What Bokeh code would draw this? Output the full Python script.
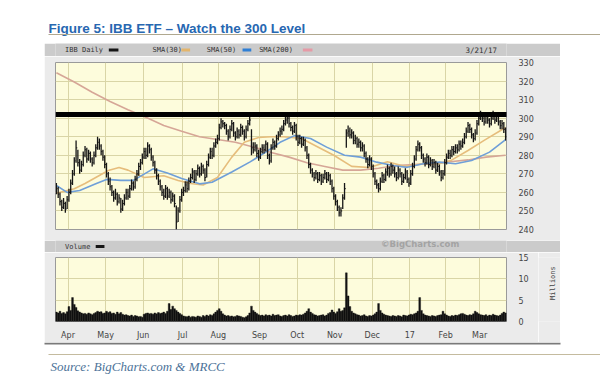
import math
import numpy as np
from bokeh.plotting import figure
from bokeh.layouts import column, row, Spacer
from bokeh.models import Range1d, FixedTicker, BoxAnnotation
from bokeh.core.properties import value
from bokeh.embed import file_html
from bokeh.resources import INLINE

# ---------------- data ----------------
month_labels = ["Apr", "May", "Jun", "Jul", "Aug", "Sep", "Oct", "Nov", "Dec", "17", "Feb", "Mar"]
month_start_idx = [7, 28, 49, 71, 91, 114, 135, 156, 177, 198, 218, 237]
price_ticks = [240, 250, 260, 270, 280, 290, 300, 310, 320, 330]
volume_ticks = [0, 5, 10, 15]
resistance_level = 302
last_date = "3/21/17"

closes = [
    262, 259, 255, 252, 254, 251, 256,
    260, 265, 270, 277, 284, 276, 272,
    275, 280, 283, 278, 281, 278, 276,
    280, 284, 287, 285, 282, 279, 275,
    270, 266, 263, 260, 257, 259, 255,
    257, 251, 254, 257, 260, 258, 262,
    265, 263, 267, 270, 274, 276, 279,
    282, 280, 285, 283, 279, 276, 272,
    269, 266, 263, 260, 258, 262, 258,
    260, 256, 258, 254, 244, 250, 256,
    260, 261, 264, 262, 266, 268, 271,
    267, 270, 273, 270, 274, 272, 268,
    275, 279, 282, 280, 285, 287, 289,
    295, 298, 297, 296, 293, 290, 294,
    297, 292, 290, 293, 291, 295, 293,
    290, 294, 297, 299, 284, 283, 285,
    281, 279, 282, 284, 283, 286, 280,
    277, 284, 287, 285, 289, 291, 293,
    294, 297, 299, 300, 297, 295, 293,
    296, 290, 287, 289, 286, 288, 284,
    280, 275, 272, 270, 268, 270, 267,
    269, 266, 268, 270, 267, 269, 266,
    262, 258, 255, 252, 249, 250, 257,
    262, 292, 293, 291, 292, 288, 289,
    286, 287, 284, 285, 281, 278, 275,
    278, 274, 270, 266, 264, 262, 266,
    269, 267, 271, 273, 270, 274, 272,
    270, 268, 272, 270, 266, 268, 271,
    267, 265, 270, 274, 278, 283, 286,
    284, 280, 278, 276, 279, 275, 277,
    274, 276, 272, 274, 271, 268, 270,
    276, 279, 281, 280, 283, 282, 284,
    283, 286, 285, 287, 290, 293, 296,
    294, 291, 289, 292, 297, 300, 302,
    300, 298, 301, 299, 297, 300, 302,
    299, 301, 298, 296, 297, 294, 290,
]

lows = [
    259, 257, 253, 250, 251, 249, 251,
    255, 259, 264, 269, 276, 274, 270,
    271, 274, 279, 276, 277, 276, 274,
    275, 279, 283, 283, 280, 277, 273,
    268, 264, 261, 258, 255, 256, 253,
    254, 249, 250, 253, 256, 256, 257,
    261, 261, 262, 266, 269, 272, 275,
    278, 278, 279, 281, 277, 274, 270,
    267, 264, 261, 258, 256, 257, 256,
    257, 254, 255, 252, 240, 244, 249,
    255, 258, 260, 260, 261, 265, 267,
    265, 266, 269, 268, 269, 270, 266,
    268, 274, 278, 278, 279, 284, 286,
    288, 294, 295, 294, 291, 288, 289,
    293, 290, 288, 289, 289, 290, 291,
    288, 289, 293, 296, 280, 281, 282,
    279, 277, 278, 281, 281, 282, 278,
    275, 276, 283, 283, 284, 288, 290,
    291, 293, 296, 297, 295, 293, 291,
    292, 288, 285, 286, 284, 285, 282,
    278, 273, 270, 268, 266, 267, 265,
    266, 264, 265, 267, 265, 266, 264,
    260, 256, 253, 250, 247, 247, 251,
    256, 284, 290, 289, 289, 286, 286,
    284, 284, 282, 282, 279, 276, 273,
    274, 272, 268, 264, 262, 260, 261,
    265, 265, 266, 269, 268, 269, 270,
    268, 266, 267, 268, 264, 265, 267,
    265, 263, 264, 269, 273, 277, 282,
    282, 278, 276, 274, 275, 273, 274,
    272, 273, 270, 271, 269, 266, 267,
    269, 275, 278, 278, 279, 280, 281,
    281, 282, 283, 284, 286, 289, 292,
    292, 289, 287, 288, 291, 296, 299,
    298, 296, 297, 297, 295, 296, 299,
    297, 298, 296, 294, 294, 292, 288,
]

highs = [
    265, 263, 260, 256, 257, 255, 258,
    262, 267, 272, 279, 288, 283, 278,
    277, 282, 285, 284, 283, 282, 279,
    282, 286, 290, 289, 286, 283, 280,
    276, 271, 268, 264, 261, 262, 260,
    259, 257, 256, 259, 262, 262, 264,
    267, 266, 269, 272, 276, 278, 281,
    284, 284, 287, 286, 284, 280, 277,
    273, 270, 267, 264, 262, 264, 263,
    262, 261, 260, 259, 253, 252, 258,
    262, 263, 266, 266, 268, 270, 273,
    272, 272, 275, 274, 276, 275, 273,
    277, 281, 284, 284, 287, 289, 291,
    297, 300, 299, 298, 297, 294, 296,
    299, 298, 293, 295, 294, 297, 296,
    294, 296, 299, 301, 294, 287, 287,
    286, 283, 284, 286, 286, 288, 287,
    281, 286, 289, 288, 291, 293, 295,
    296, 299, 301, 302, 301, 298, 296,
    298, 297, 291, 291, 290, 290, 289,
    285, 281, 276, 273, 271, 272, 271,
    271, 270, 270, 272, 271, 271, 270,
    267, 263, 259, 256, 253, 252, 259,
    265, 294, 296, 295, 294, 293, 291,
    290, 289, 288, 287, 286, 282, 279,
    280, 279, 275, 271, 267, 265, 268,
    271, 270, 273, 275, 274, 276, 275,
    274, 271, 274, 273, 271, 270, 273,
    272, 268, 272, 276, 280, 285, 288,
    287, 285, 281, 279, 281, 280, 279,
    278, 278, 277, 276, 275, 272, 272,
    278, 281, 283, 283, 285, 285, 286,
    286, 288, 288, 289, 292, 295, 298,
    297, 295, 292, 294, 299, 302, 304,
    303, 301, 303, 302, 300, 302, 304,
    303, 303, 302, 299, 299, 298, 295,
]

volume_m = [
    2.2, 2.0, 2.4, 1.9, 2.1, 1.8, 2.3,
    3.5, 2.6, 5.6, 4.0, 3.3, 2.5, 2.2,
    2.0, 1.8, 1.9, 1.7, 2.0, 1.8, 1.6,
    1.9, 2.1, 2.4, 2.2, 2.3, 1.9, 2.0,
    2.4, 2.1, 2.3, 1.9, 2.0, 1.7, 2.2,
    1.8, 2.1, 1.7, 1.5, 1.6, 1.4, 1.3,
    1.5, 1.2, 1.4, 1.3, 1.1, 1.2, 1.0,
    1.7, 1.9, 2.0, 1.8, 1.9, 1.7, 2.0,
    1.8, 2.1, 1.9, 2.0, 2.2, 1.9, 2.4,
    4.2, 2.8, 3.6, 3.0, 2.6, 2.2, 1.9,
    1.6, 1.3, 1.2, 1.1, 1.3, 1.0, 1.2,
    1.1, 1.0, 1.3, 1.2, 1.0, 1.4, 1.2,
    1.5, 1.3, 1.6, 1.4, 1.8, 2.2, 2.6,
    3.0, 2.4, 1.8, 1.5, 1.3, 1.4, 1.2,
    1.3, 1.1, 1.2, 1.4, 1.3, 1.2, 1.0,
    0.9, 1.1, 1.4, 2.0, 3.6, 2.6, 2.2,
    1.9, 1.6, 1.4, 1.5, 1.3, 1.6, 1.4,
    1.5, 1.3, 1.7, 1.4, 1.5, 1.6, 1.3,
    1.2, 1.4, 1.5, 1.3, 1.6, 1.4, 1.2,
    1.3, 1.5, 1.4, 1.6, 1.5, 1.7, 2.0,
    2.4, 3.0, 2.2, 1.9, 1.6, 1.5, 1.3,
    1.4, 1.5, 1.6, 1.3, 1.5, 1.9, 2.1,
    2.7, 2.2, 1.9, 2.3, 3.0, 2.4, 2.6,
    3.2, 11.4, 6.0, 3.5, 2.4, 2.0, 1.8,
    1.6, 1.5, 1.3, 1.4, 1.6, 1.3, 1.2,
    1.4, 1.3, 1.5, 1.8, 2.2, 4.2, 2.6,
    2.0, 1.7, 1.5, 1.4, 1.3, 1.2, 1.4,
    1.3, 1.2, 1.4, 1.3, 1.1, 1.5, 1.4,
    1.3, 1.5, 1.7, 1.6, 1.8, 2.0, 2.4,
    5.6, 2.6, 1.8, 1.5, 1.4, 1.3, 1.2,
    1.4, 1.3, 1.2, 1.4, 1.5, 1.6, 2.4,
    1.8, 1.5, 1.3, 1.2, 1.4, 1.3, 1.5,
    1.4, 1.6, 1.8, 1.9, 1.7, 1.5, 1.4,
    1.6, 1.5, 1.8, 2.4, 2.1, 1.8, 1.6,
    1.5, 1.4, 1.6, 1.3, 1.5, 1.4, 1.7,
    1.5, 1.4, 1.3, 1.5, 1.9, 2.2, 2.0,
]

sma30_idx = [0, 10, 16, 29, 35, 40, 49, 60, 68, 75, 82, 90, 98, 105, 113, 120,
             127, 137, 145, 155, 165, 175, 185, 195, 205, 214, 221, 230, 239, 251]
sma30_val = [259.5, 262, 264.8, 271.8, 273.4, 272, 268, 269, 266.4, 264.8, 264, 268,
             279, 287, 289.6, 290, 290, 289, 285, 280, 274, 273.4, 276.5, 274,
             275.4, 275.4, 277.5, 282.6, 288, 295]

sma50_idx = [0, 6, 13, 22, 28, 36, 43, 54, 62, 70, 80, 87, 98, 108, 117, 125,
             133, 142, 151, 161, 170, 179, 188, 196, 205, 214, 223, 232, 242, 251]
sma50_val = [263.7, 260, 261, 264.6, 267, 266.5, 266.5, 272.7, 270.5, 267.5, 264.6,
             265.5, 271, 276.3, 281.7, 287, 290.6, 289, 284.4, 280, 279, 276.3,
             274.5, 273.5, 275.4, 276.3, 275.4, 277.2, 281.7, 288.5]

sma200_idx = [0, 10, 20, 30, 40, 50, 60, 70, 80, 90, 100, 110, 120, 130, 140, 150,
              160, 170, 180, 190, 200, 210, 220, 230, 240, 251]
sma200_val = [324.5, 319.5, 314, 309, 304.5, 300.5, 296, 293, 290, 288.5, 287, 284.5,
              281.5, 279, 276, 274, 272, 272, 273, 274.5, 275, 275.5, 276.5, 277.5,
              279, 280]

# ---------------- styles ----------------
BAR_GREY = "#cbcbcb"
PANEL = "#ebebeb"
CREAM = "#fdfcdc"
GRID = "#d9d5a6"
PRICE_C = "#161616"
SMA30_C = "#e6bd7c"
SMA50_C = "#6f9fd8"
SMA200_C = "#d6a697"
LEG_PINK = "#e59aa6"
LEG_BLUE = "#2f7fd5"
LEG_TAN = "#e3b56c"
MONO = value("DejaVu Sans Mono")
SANS = value("DejaVu Sans")


def strip(w, h, bg, flip=True):
    yr = Range1d(h, 0) if flip else Range1d(0, h)
    s = figure(width=w, height=h, x_range=Range1d(0, w), y_range=yr,
               min_border=0, toolbar_location=None, output_backend="svg",
               x_axis_location=None, y_axis_location=None)
    s.grid.visible = False
    s.outline_line_color = None
    s.background_fill_color = bg
    s.border_fill_color = bg
    return s


# ---------------- header ----------------
header = strip(592, 35, "white")
header.text(x=[40], y=[20], text=["Figure 5: IBB ETF \u2013 Watch the 300 Level"],
            text_font=value("Liberation Sans"), text_font_style="bold",
            text_font_size="13.5px", text_color="#2767b1", text_baseline="alphabetic")
header.quad(left=[40], right=[592], top=[25.5], bottom=[26.5], fill_color="#b0a88f",
            line_color=None)

# ---------------- legend strip ----------------
leg = strip(516, 13, BAR_GREY)
leg.text(x=[11, 111, 173, 233], y=[6.5] * 4,
         text=["IBB Daily", "SMA(30)", "SMA(50)", "SMA(200)"],
         text_font=MONO, text_font_size="7px", text_color="#333333",
         text_baseline="middle")
leg.quad(left=[61, 144, 214, 283], right=[72, 154, 224, 294],
         top=[5, 5, 5, 5], bottom=[8, 8, 8, 8],
         fill_color=[PRICE_C, LEG_TAN, LEG_BLUE, LEG_PINK], line_color=None)
leg.text(x=[469], y=[6.5], text=[last_date], text_font=MONO, text_font_size="7.5px",
         text_color="#333333", text_baseline="middle")

# ---------------- price chart ----------------
idx = np.arange(len(closes))
xs = idx + 0.5

p = figure(width=516, height=184, x_range=Range1d(0, len(closes)),
           y_range=Range1d(240, 330), x_axis_location=None, y_axis_location="right",
           toolbar_location=None, output_backend="svg",
           min_border_left=11, min_border_right=54, min_border_top=6, min_border_bottom=11)
p.background_fill_color = CREAM
p.border_fill_color = PANEL
p.outline_line_color = "#9a9a9a"
p.xgrid.ticker = FixedTicker(ticks=month_start_idx)
p.ygrid.ticker = FixedTicker(ticks=price_ticks)
p.grid.grid_line_color = GRID
p.grid.grid_line_width = 1
p.yaxis.ticker = FixedTicker(ticks=price_ticks)
p.yaxis.axis_line_color = None
p.yaxis.major_tick_line_color = None
p.yaxis.minor_tick_line_color = None
p.yaxis.major_label_standoff = 6
p.yaxis.major_label_text_font = "DejaVu Sans"
p.yaxis.major_label_text_font_size = "8px"
p.yaxis.major_label_text_color = "#444444"

p.line(np.array(sma200_idx) + 0.5, sma200_val, line_color=SMA200_C, line_width=1.6)
p.line(np.array(sma30_idx) + 0.5, sma30_val, line_color=SMA30_C, line_width=1.6)
p.line(np.array(sma50_idx) + 0.5, sma50_val, line_color=SMA50_C, line_width=1.6)

p.segment(x0=xs, y0=lows, x1=xs, y1=highs, line_color=PRICE_C, line_width=1.3)
p.segment(x0=xs, y0=closes, x1=xs + 0.7, y1=closes, line_color=PRICE_C, line_width=1.0)

p.add_layout(BoxAnnotation(left=0, left_units="screen", right=len(closes) + 0.4,
                           bottom=resistance_level - 1.35, top=resistance_level + 1.35,
                           fill_color="black", fill_alpha=1.0, line_color=None,
                           level="overlay"))

# ---------------- volume strip ----------------
vstrip = strip(516, 12, BAR_GREY)
vstrip.text(x=[11], y=[6], text=["Volume"], text_font=MONO, text_font_size="7px",
            text_color="#333333", text_baseline="middle")
vstrip.quad(left=[46], right=[56], top=[4.5], bottom=[7.5], fill_color=PRICE_C,
            line_color=None)
vstrip.text(x=[462], y=[3.5], text=["\u00a9BigCharts.com"], text_font=SANS,
            text_font_style="bold", text_font_size="8.5px", text_color="#a3a3a3",
            text_baseline="middle", text_align="right")

# ---------------- volume chart ----------------
v = figure(width=494, height=90, x_range=p.x_range, y_range=Range1d(0, 15),
           x_axis_location="below", y_axis_location="right",
           toolbar_location=None, output_backend="svg",
           min_border_left=11, min_border_right=32, min_border_top=5, min_border_bottom=16)
v.background_fill_color = CREAM
v.border_fill_color = PANEL
v.outline_line_color = "#9a9a9a"
v.xgrid.ticker = FixedTicker(ticks=month_start_idx)
v.ygrid.ticker = FixedTicker(ticks=volume_ticks)
v.grid.grid_line_color = GRID
v.vbar(x=xs, top=volume_m, width=1.0, fill_color="#111111", line_color="#111111",
       line_width=0.4)

v.xaxis.ticker = FixedTicker(ticks=month_start_idx)
v.xaxis.major_label_overrides = {i: lab for i, lab in zip(month_start_idx, month_labels)}
v.yaxis.ticker = FixedTicker(ticks=volume_ticks)
for ax in (v.xaxis, v.yaxis):
    ax.axis_line_color = None
    ax.major_tick_line_color = None
    ax.minor_tick_line_color = None
    ax.major_label_text_font = "DejaVu Sans"
    ax.major_label_text_font_size = "8px"
    ax.major_label_text_color = "#444444"
v.xaxis.major_label_standoff = 3
v.yaxis.major_label_standoff = 6

# unit label strip to the right of the volume chart
mstrip = strip(22, 90, PANEL, flip=False)
mstrip.text(x=[14], y=[54], text=["Millions"], angle=math.pi / 2,
            text_font=MONO, text_font_size="7px", text_color="#444444",
            text_align="center", text_baseline="middle")

# ---------------- footer ----------------
footer = strip(592, 42, "white")
footer.quad(left=[36], right=[552], top=[0], bottom=[2], fill_color="#7a7a7a",
            line_color=None)
footer.quad(left=[40], right=[592], top=[11.5], bottom=[12.5], fill_color="#c4bb9f",
            line_color=None)
footer.text(x=[42], y=[24], text=["Source: BigCharts.com & MRCC"],
            text_font=value("Liberation Serif"), text_font_style="italic",
            text_font_size="13px", text_color="#4d7399", text_baseline="middle")

panel = column(leg, p, vstrip, row(v, mstrip, spacing=0), spacing=0)
inner = column(header, row(Spacer(width=36, height=299), panel, spacing=0), footer,
               spacing=0)
layout = column(Spacer(width=600, height=8),
                row(Spacer(width=8, height=376), inner, spacing=0), spacing=0)

open("out.html", "w").write(file_html(layout, INLINE))
